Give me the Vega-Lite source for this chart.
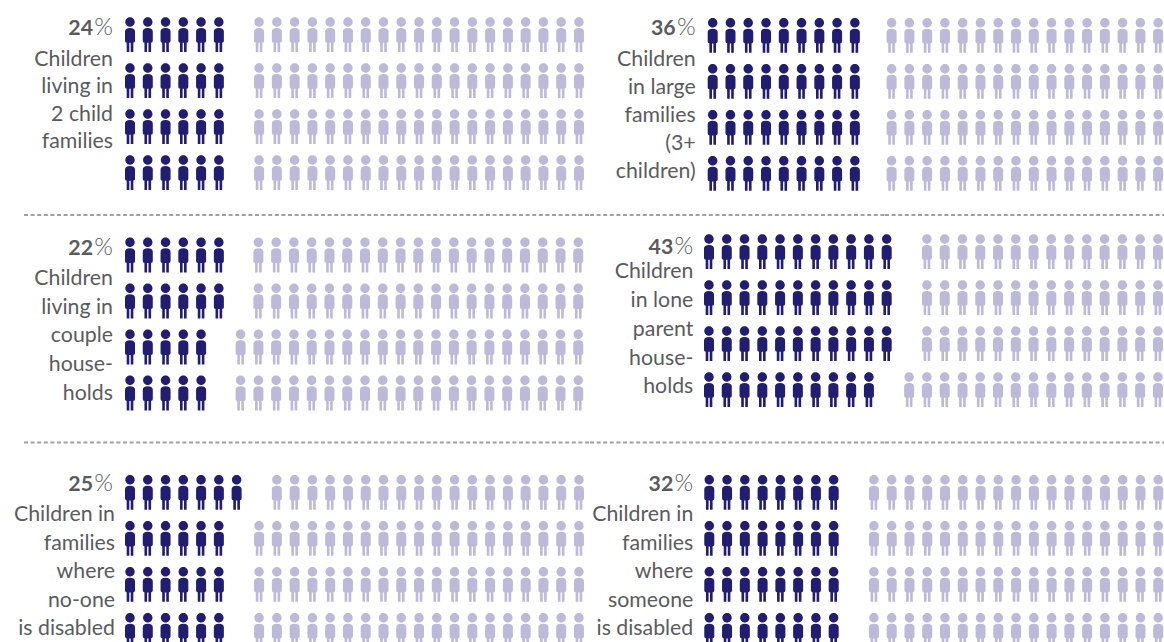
{"$schema":"https://vega.github.io/schema/vega-lite/v6.json","padding":0,"background":"white","spacing":0,"bounds":"flush","columns":2,"config":{"view":{"stroke":null},"rule":{"color":"#a0a0a0","strokeWidth":2.2,"strokeDash":[4,2.6]},"point":{"filled":true,"opacity":1,"size":1225,"strokeWidth":0,"shape":"M-0.27 -0.72C-0.27 -0.869 -0.149 -0.99 0 -0.99C0.149 -0.99 0.27 -0.869 0.27 -0.72C0.27 -0.571 0.149 -0.45 0 -0.45C-0.149 -0.45 -0.27 -0.571 -0.27 -0.72ZM-0.286 -0.17Q-0.286 -0.377 0 -0.377Q0.286 -0.377 0.286 -0.17L0.286 0.36Q0.286 0.463 0.18 0.463L-0.18 0.463Q-0.286 0.463 -0.286 0.36ZM-0.19 0.44L-0.04 0.44L-0.04 1L-0.19 1ZM0.04 0.44L0.19 0.44L0.19 1L0.04 1Z"},"text":{"font":"Lato","fontSize":21.3,"color":"#5a5b5d","align":"right","baseline":"alphabetic"}},
"datasets":{
"p1":[{"row":0,"col":0,"kind":"dark"},{"row":0,"col":1,"kind":"dark"},{"row":0,"col":2,"kind":"dark"},{"row":0,"col":3,"kind":"dark"},{"row":0,"col":4,"kind":"dark"},{"row":0,"col":5,"kind":"dark"},{"row":0,"col":7,"kind":"light"},{"row":0,"col":8,"kind":"light"},{"row":0,"col":9,"kind":"light"},{"row":0,"col":10,"kind":"light"},{"row":0,"col":11,"kind":"light"},{"row":0,"col":12,"kind":"light"},{"row":0,"col":13,"kind":"light"},{"row":0,"col":14,"kind":"light"},{"row":0,"col":15,"kind":"light"},{"row":0,"col":16,"kind":"light"},{"row":0,"col":17,"kind":"light"},{"row":0,"col":18,"kind":"light"},{"row":0,"col":19,"kind":"light"},{"row":0,"col":20,"kind":"light"},{"row":0,"col":21,"kind":"light"},{"row":0,"col":22,"kind":"light"},{"row":0,"col":23,"kind":"light"},{"row":0,"col":24,"kind":"light"},{"row":0,"col":25,"kind":"light"},
{"row":1,"col":0,"kind":"dark"},{"row":1,"col":1,"kind":"dark"},{"row":1,"col":2,"kind":"dark"},{"row":1,"col":3,"kind":"dark"},{"row":1,"col":4,"kind":"dark"},{"row":1,"col":5,"kind":"dark"},{"row":1,"col":7,"kind":"light"},{"row":1,"col":8,"kind":"light"},{"row":1,"col":9,"kind":"light"},{"row":1,"col":10,"kind":"light"},{"row":1,"col":11,"kind":"light"},{"row":1,"col":12,"kind":"light"},{"row":1,"col":13,"kind":"light"},{"row":1,"col":14,"kind":"light"},{"row":1,"col":15,"kind":"light"},{"row":1,"col":16,"kind":"light"},{"row":1,"col":17,"kind":"light"},{"row":1,"col":18,"kind":"light"},{"row":1,"col":19,"kind":"light"},{"row":1,"col":20,"kind":"light"},{"row":1,"col":21,"kind":"light"},{"row":1,"col":22,"kind":"light"},{"row":1,"col":23,"kind":"light"},{"row":1,"col":24,"kind":"light"},{"row":1,"col":25,"kind":"light"},
{"row":2,"col":0,"kind":"dark"},{"row":2,"col":1,"kind":"dark"},{"row":2,"col":2,"kind":"dark"},{"row":2,"col":3,"kind":"dark"},{"row":2,"col":4,"kind":"dark"},{"row":2,"col":5,"kind":"dark"},{"row":2,"col":7,"kind":"light"},{"row":2,"col":8,"kind":"light"},{"row":2,"col":9,"kind":"light"},{"row":2,"col":10,"kind":"light"},{"row":2,"col":11,"kind":"light"},{"row":2,"col":12,"kind":"light"},{"row":2,"col":13,"kind":"light"},{"row":2,"col":14,"kind":"light"},{"row":2,"col":15,"kind":"light"},{"row":2,"col":16,"kind":"light"},{"row":2,"col":17,"kind":"light"},{"row":2,"col":18,"kind":"light"},{"row":2,"col":19,"kind":"light"},{"row":2,"col":20,"kind":"light"},{"row":2,"col":21,"kind":"light"},{"row":2,"col":22,"kind":"light"},{"row":2,"col":23,"kind":"light"},{"row":2,"col":24,"kind":"light"},{"row":2,"col":25,"kind":"light"},
{"row":3,"col":0,"kind":"dark"},{"row":3,"col":1,"kind":"dark"},{"row":3,"col":2,"kind":"dark"},{"row":3,"col":3,"kind":"dark"},{"row":3,"col":4,"kind":"dark"},{"row":3,"col":5,"kind":"dark"},{"row":3,"col":7,"kind":"light"},{"row":3,"col":8,"kind":"light"},{"row":3,"col":9,"kind":"light"},{"row":3,"col":10,"kind":"light"},{"row":3,"col":11,"kind":"light"},{"row":3,"col":12,"kind":"light"},{"row":3,"col":13,"kind":"light"},{"row":3,"col":14,"kind":"light"},{"row":3,"col":15,"kind":"light"},{"row":3,"col":16,"kind":"light"},{"row":3,"col":17,"kind":"light"},{"row":3,"col":18,"kind":"light"},{"row":3,"col":19,"kind":"light"},{"row":3,"col":20,"kind":"light"},{"row":3,"col":21,"kind":"light"},{"row":3,"col":22,"kind":"light"},{"row":3,"col":23,"kind":"light"},{"row":3,"col":24,"kind":"light"},{"row":3,"col":25,"kind":"light"}],
"p2":[{"row":0,"col":0,"kind":"dark"},{"row":0,"col":1,"kind":"dark"},{"row":0,"col":2,"kind":"dark"},{"row":0,"col":3,"kind":"dark"},{"row":0,"col":4,"kind":"dark"},{"row":0,"col":5,"kind":"dark"},{"row":0,"col":6,"kind":"dark"},{"row":0,"col":7,"kind":"dark"},{"row":0,"col":8,"kind":"dark"},{"row":0,"col":10,"kind":"light"},{"row":0,"col":11,"kind":"light"},{"row":0,"col":12,"kind":"light"},{"row":0,"col":13,"kind":"light"},{"row":0,"col":14,"kind":"light"},{"row":0,"col":15,"kind":"light"},{"row":0,"col":16,"kind":"light"},{"row":0,"col":17,"kind":"light"},{"row":0,"col":18,"kind":"light"},{"row":0,"col":19,"kind":"light"},{"row":0,"col":20,"kind":"light"},{"row":0,"col":21,"kind":"light"},{"row":0,"col":22,"kind":"light"},{"row":0,"col":23,"kind":"light"},{"row":0,"col":24,"kind":"light"},{"row":0,"col":25,"kind":"light"},
{"row":1,"col":0,"kind":"dark"},{"row":1,"col":1,"kind":"dark"},{"row":1,"col":2,"kind":"dark"},{"row":1,"col":3,"kind":"dark"},{"row":1,"col":4,"kind":"dark"},{"row":1,"col":5,"kind":"dark"},{"row":1,"col":6,"kind":"dark"},{"row":1,"col":7,"kind":"dark"},{"row":1,"col":8,"kind":"dark"},{"row":1,"col":10,"kind":"light"},{"row":1,"col":11,"kind":"light"},{"row":1,"col":12,"kind":"light"},{"row":1,"col":13,"kind":"light"},{"row":1,"col":14,"kind":"light"},{"row":1,"col":15,"kind":"light"},{"row":1,"col":16,"kind":"light"},{"row":1,"col":17,"kind":"light"},{"row":1,"col":18,"kind":"light"},{"row":1,"col":19,"kind":"light"},{"row":1,"col":20,"kind":"light"},{"row":1,"col":21,"kind":"light"},{"row":1,"col":22,"kind":"light"},{"row":1,"col":23,"kind":"light"},{"row":1,"col":24,"kind":"light"},{"row":1,"col":25,"kind":"light"},
{"row":2,"col":0,"kind":"dark"},{"row":2,"col":1,"kind":"dark"},{"row":2,"col":2,"kind":"dark"},{"row":2,"col":3,"kind":"dark"},{"row":2,"col":4,"kind":"dark"},{"row":2,"col":5,"kind":"dark"},{"row":2,"col":6,"kind":"dark"},{"row":2,"col":7,"kind":"dark"},{"row":2,"col":8,"kind":"dark"},{"row":2,"col":10,"kind":"light"},{"row":2,"col":11,"kind":"light"},{"row":2,"col":12,"kind":"light"},{"row":2,"col":13,"kind":"light"},{"row":2,"col":14,"kind":"light"},{"row":2,"col":15,"kind":"light"},{"row":2,"col":16,"kind":"light"},{"row":2,"col":17,"kind":"light"},{"row":2,"col":18,"kind":"light"},{"row":2,"col":19,"kind":"light"},{"row":2,"col":20,"kind":"light"},{"row":2,"col":21,"kind":"light"},{"row":2,"col":22,"kind":"light"},{"row":2,"col":23,"kind":"light"},{"row":2,"col":24,"kind":"light"},{"row":2,"col":25,"kind":"light"},
{"row":3,"col":0,"kind":"dark"},{"row":3,"col":1,"kind":"dark"},{"row":3,"col":2,"kind":"dark"},{"row":3,"col":3,"kind":"dark"},{"row":3,"col":4,"kind":"dark"},{"row":3,"col":5,"kind":"dark"},{"row":3,"col":6,"kind":"dark"},{"row":3,"col":7,"kind":"dark"},{"row":3,"col":8,"kind":"dark"},{"row":3,"col":10,"kind":"light"},{"row":3,"col":11,"kind":"light"},{"row":3,"col":12,"kind":"light"},{"row":3,"col":13,"kind":"light"},{"row":3,"col":14,"kind":"light"},{"row":3,"col":15,"kind":"light"},{"row":3,"col":16,"kind":"light"},{"row":3,"col":17,"kind":"light"},{"row":3,"col":18,"kind":"light"},{"row":3,"col":19,"kind":"light"},{"row":3,"col":20,"kind":"light"},{"row":3,"col":21,"kind":"light"},{"row":3,"col":22,"kind":"light"},{"row":3,"col":23,"kind":"light"},{"row":3,"col":24,"kind":"light"},{"row":3,"col":25,"kind":"light"}],
"p3":[{"row":0,"col":0,"kind":"dark"},{"row":0,"col":1,"kind":"dark"},{"row":0,"col":2,"kind":"dark"},{"row":0,"col":3,"kind":"dark"},{"row":0,"col":4,"kind":"dark"},{"row":0,"col":5,"kind":"dark"},{"row":0,"col":7,"kind":"light"},{"row":0,"col":8,"kind":"light"},{"row":0,"col":9,"kind":"light"},{"row":0,"col":10,"kind":"light"},{"row":0,"col":11,"kind":"light"},{"row":0,"col":12,"kind":"light"},{"row":0,"col":13,"kind":"light"},{"row":0,"col":14,"kind":"light"},{"row":0,"col":15,"kind":"light"},{"row":0,"col":16,"kind":"light"},{"row":0,"col":17,"kind":"light"},{"row":0,"col":18,"kind":"light"},{"row":0,"col":19,"kind":"light"},{"row":0,"col":20,"kind":"light"},{"row":0,"col":21,"kind":"light"},{"row":0,"col":22,"kind":"light"},{"row":0,"col":23,"kind":"light"},{"row":0,"col":24,"kind":"light"},{"row":0,"col":25,"kind":"light"},
{"row":1,"col":0,"kind":"dark"},{"row":1,"col":1,"kind":"dark"},{"row":1,"col":2,"kind":"dark"},{"row":1,"col":3,"kind":"dark"},{"row":1,"col":4,"kind":"dark"},{"row":1,"col":5,"kind":"dark"},{"row":1,"col":7,"kind":"light"},{"row":1,"col":8,"kind":"light"},{"row":1,"col":9,"kind":"light"},{"row":1,"col":10,"kind":"light"},{"row":1,"col":11,"kind":"light"},{"row":1,"col":12,"kind":"light"},{"row":1,"col":13,"kind":"light"},{"row":1,"col":14,"kind":"light"},{"row":1,"col":15,"kind":"light"},{"row":1,"col":16,"kind":"light"},{"row":1,"col":17,"kind":"light"},{"row":1,"col":18,"kind":"light"},{"row":1,"col":19,"kind":"light"},{"row":1,"col":20,"kind":"light"},{"row":1,"col":21,"kind":"light"},{"row":1,"col":22,"kind":"light"},{"row":1,"col":23,"kind":"light"},{"row":1,"col":24,"kind":"light"},{"row":1,"col":25,"kind":"light"},
{"row":2,"col":0,"kind":"dark"},{"row":2,"col":1,"kind":"dark"},{"row":2,"col":2,"kind":"dark"},{"row":2,"col":3,"kind":"dark"},{"row":2,"col":4,"kind":"dark"},{"row":2,"col":6,"kind":"light"},{"row":2,"col":7,"kind":"light"},{"row":2,"col":8,"kind":"light"},{"row":2,"col":9,"kind":"light"},{"row":2,"col":10,"kind":"light"},{"row":2,"col":11,"kind":"light"},{"row":2,"col":12,"kind":"light"},{"row":2,"col":13,"kind":"light"},{"row":2,"col":14,"kind":"light"},{"row":2,"col":15,"kind":"light"},{"row":2,"col":16,"kind":"light"},{"row":2,"col":17,"kind":"light"},{"row":2,"col":18,"kind":"light"},{"row":2,"col":19,"kind":"light"},{"row":2,"col":20,"kind":"light"},{"row":2,"col":21,"kind":"light"},{"row":2,"col":22,"kind":"light"},{"row":2,"col":23,"kind":"light"},{"row":2,"col":24,"kind":"light"},{"row":2,"col":25,"kind":"light"},
{"row":3,"col":0,"kind":"dark"},{"row":3,"col":1,"kind":"dark"},{"row":3,"col":2,"kind":"dark"},{"row":3,"col":3,"kind":"dark"},{"row":3,"col":4,"kind":"dark"},{"row":3,"col":6,"kind":"light"},{"row":3,"col":7,"kind":"light"},{"row":3,"col":8,"kind":"light"},{"row":3,"col":9,"kind":"light"},{"row":3,"col":10,"kind":"light"},{"row":3,"col":11,"kind":"light"},{"row":3,"col":12,"kind":"light"},{"row":3,"col":13,"kind":"light"},{"row":3,"col":14,"kind":"light"},{"row":3,"col":15,"kind":"light"},{"row":3,"col":16,"kind":"light"},{"row":3,"col":17,"kind":"light"},{"row":3,"col":18,"kind":"light"},{"row":3,"col":19,"kind":"light"},{"row":3,"col":20,"kind":"light"},{"row":3,"col":21,"kind":"light"},{"row":3,"col":22,"kind":"light"},{"row":3,"col":23,"kind":"light"},{"row":3,"col":24,"kind":"light"},{"row":3,"col":25,"kind":"light"}],
"p4":[{"row":0,"col":0,"kind":"dark"},{"row":0,"col":1,"kind":"dark"},{"row":0,"col":2,"kind":"dark"},{"row":0,"col":3,"kind":"dark"},{"row":0,"col":4,"kind":"dark"},{"row":0,"col":5,"kind":"dark"},{"row":0,"col":6,"kind":"dark"},{"row":0,"col":7,"kind":"dark"},{"row":0,"col":8,"kind":"dark"},{"row":0,"col":9,"kind":"dark"},{"row":0,"col":10,"kind":"dark"},{"row":0,"col":12,"kind":"light"},{"row":0,"col":13,"kind":"light"},{"row":0,"col":14,"kind":"light"},{"row":0,"col":15,"kind":"light"},{"row":0,"col":16,"kind":"light"},{"row":0,"col":17,"kind":"light"},{"row":0,"col":18,"kind":"light"},{"row":0,"col":19,"kind":"light"},{"row":0,"col":20,"kind":"light"},{"row":0,"col":21,"kind":"light"},{"row":0,"col":22,"kind":"light"},{"row":0,"col":23,"kind":"light"},{"row":0,"col":24,"kind":"light"},{"row":0,"col":25,"kind":"light"},
{"row":1,"col":0,"kind":"dark"},{"row":1,"col":1,"kind":"dark"},{"row":1,"col":2,"kind":"dark"},{"row":1,"col":3,"kind":"dark"},{"row":1,"col":4,"kind":"dark"},{"row":1,"col":5,"kind":"dark"},{"row":1,"col":6,"kind":"dark"},{"row":1,"col":7,"kind":"dark"},{"row":1,"col":8,"kind":"dark"},{"row":1,"col":9,"kind":"dark"},{"row":1,"col":10,"kind":"dark"},{"row":1,"col":12,"kind":"light"},{"row":1,"col":13,"kind":"light"},{"row":1,"col":14,"kind":"light"},{"row":1,"col":15,"kind":"light"},{"row":1,"col":16,"kind":"light"},{"row":1,"col":17,"kind":"light"},{"row":1,"col":18,"kind":"light"},{"row":1,"col":19,"kind":"light"},{"row":1,"col":20,"kind":"light"},{"row":1,"col":21,"kind":"light"},{"row":1,"col":22,"kind":"light"},{"row":1,"col":23,"kind":"light"},{"row":1,"col":24,"kind":"light"},{"row":1,"col":25,"kind":"light"},
{"row":2,"col":0,"kind":"dark"},{"row":2,"col":1,"kind":"dark"},{"row":2,"col":2,"kind":"dark"},{"row":2,"col":3,"kind":"dark"},{"row":2,"col":4,"kind":"dark"},{"row":2,"col":5,"kind":"dark"},{"row":2,"col":6,"kind":"dark"},{"row":2,"col":7,"kind":"dark"},{"row":2,"col":8,"kind":"dark"},{"row":2,"col":9,"kind":"dark"},{"row":2,"col":10,"kind":"dark"},{"row":2,"col":12,"kind":"light"},{"row":2,"col":13,"kind":"light"},{"row":2,"col":14,"kind":"light"},{"row":2,"col":15,"kind":"light"},{"row":2,"col":16,"kind":"light"},{"row":2,"col":17,"kind":"light"},{"row":2,"col":18,"kind":"light"},{"row":2,"col":19,"kind":"light"},{"row":2,"col":20,"kind":"light"},{"row":2,"col":21,"kind":"light"},{"row":2,"col":22,"kind":"light"},{"row":2,"col":23,"kind":"light"},{"row":2,"col":24,"kind":"light"},{"row":2,"col":25,"kind":"light"},
{"row":3,"col":0,"kind":"dark"},{"row":3,"col":1,"kind":"dark"},{"row":3,"col":2,"kind":"dark"},{"row":3,"col":3,"kind":"dark"},{"row":3,"col":4,"kind":"dark"},{"row":3,"col":5,"kind":"dark"},{"row":3,"col":6,"kind":"dark"},{"row":3,"col":7,"kind":"dark"},{"row":3,"col":8,"kind":"dark"},{"row":3,"col":9,"kind":"dark"},{"row":3,"col":11,"kind":"light"},{"row":3,"col":12,"kind":"light"},{"row":3,"col":13,"kind":"light"},{"row":3,"col":14,"kind":"light"},{"row":3,"col":15,"kind":"light"},{"row":3,"col":16,"kind":"light"},{"row":3,"col":17,"kind":"light"},{"row":3,"col":18,"kind":"light"},{"row":3,"col":19,"kind":"light"},{"row":3,"col":20,"kind":"light"},{"row":3,"col":21,"kind":"light"},{"row":3,"col":22,"kind":"light"},{"row":3,"col":23,"kind":"light"},{"row":3,"col":24,"kind":"light"},{"row":3,"col":25,"kind":"light"}],
"p5":[{"row":0,"col":0,"kind":"dark"},{"row":0,"col":1,"kind":"dark"},{"row":0,"col":2,"kind":"dark"},{"row":0,"col":3,"kind":"dark"},{"row":0,"col":4,"kind":"dark"},{"row":0,"col":5,"kind":"dark"},{"row":0,"col":6,"kind":"dark"},{"row":0,"col":8,"kind":"light"},{"row":0,"col":9,"kind":"light"},{"row":0,"col":10,"kind":"light"},{"row":0,"col":11,"kind":"light"},{"row":0,"col":12,"kind":"light"},{"row":0,"col":13,"kind":"light"},{"row":0,"col":14,"kind":"light"},{"row":0,"col":15,"kind":"light"},{"row":0,"col":16,"kind":"light"},{"row":0,"col":17,"kind":"light"},{"row":0,"col":18,"kind":"light"},{"row":0,"col":19,"kind":"light"},{"row":0,"col":20,"kind":"light"},{"row":0,"col":21,"kind":"light"},{"row":0,"col":22,"kind":"light"},{"row":0,"col":23,"kind":"light"},{"row":0,"col":24,"kind":"light"},{"row":0,"col":25,"kind":"light"},
{"row":1,"col":0,"kind":"dark"},{"row":1,"col":1,"kind":"dark"},{"row":1,"col":2,"kind":"dark"},{"row":1,"col":3,"kind":"dark"},{"row":1,"col":4,"kind":"dark"},{"row":1,"col":5,"kind":"dark"},{"row":1,"col":7,"kind":"light"},{"row":1,"col":8,"kind":"light"},{"row":1,"col":9,"kind":"light"},{"row":1,"col":10,"kind":"light"},{"row":1,"col":11,"kind":"light"},{"row":1,"col":12,"kind":"light"},{"row":1,"col":13,"kind":"light"},{"row":1,"col":14,"kind":"light"},{"row":1,"col":15,"kind":"light"},{"row":1,"col":16,"kind":"light"},{"row":1,"col":17,"kind":"light"},{"row":1,"col":18,"kind":"light"},{"row":1,"col":19,"kind":"light"},{"row":1,"col":20,"kind":"light"},{"row":1,"col":21,"kind":"light"},{"row":1,"col":22,"kind":"light"},{"row":1,"col":23,"kind":"light"},{"row":1,"col":24,"kind":"light"},{"row":1,"col":25,"kind":"light"},
{"row":2,"col":0,"kind":"dark"},{"row":2,"col":1,"kind":"dark"},{"row":2,"col":2,"kind":"dark"},{"row":2,"col":3,"kind":"dark"},{"row":2,"col":4,"kind":"dark"},{"row":2,"col":5,"kind":"dark"},{"row":2,"col":7,"kind":"light"},{"row":2,"col":8,"kind":"light"},{"row":2,"col":9,"kind":"light"},{"row":2,"col":10,"kind":"light"},{"row":2,"col":11,"kind":"light"},{"row":2,"col":12,"kind":"light"},{"row":2,"col":13,"kind":"light"},{"row":2,"col":14,"kind":"light"},{"row":2,"col":15,"kind":"light"},{"row":2,"col":16,"kind":"light"},{"row":2,"col":17,"kind":"light"},{"row":2,"col":18,"kind":"light"},{"row":2,"col":19,"kind":"light"},{"row":2,"col":20,"kind":"light"},{"row":2,"col":21,"kind":"light"},{"row":2,"col":22,"kind":"light"},{"row":2,"col":23,"kind":"light"},{"row":2,"col":24,"kind":"light"},{"row":2,"col":25,"kind":"light"},
{"row":3,"col":0,"kind":"dark"},{"row":3,"col":1,"kind":"dark"},{"row":3,"col":2,"kind":"dark"},{"row":3,"col":3,"kind":"dark"},{"row":3,"col":4,"kind":"dark"},{"row":3,"col":5,"kind":"dark"},{"row":3,"col":7,"kind":"light"},{"row":3,"col":8,"kind":"light"},{"row":3,"col":9,"kind":"light"},{"row":3,"col":10,"kind":"light"},{"row":3,"col":11,"kind":"light"},{"row":3,"col":12,"kind":"light"},{"row":3,"col":13,"kind":"light"},{"row":3,"col":14,"kind":"light"},{"row":3,"col":15,"kind":"light"},{"row":3,"col":16,"kind":"light"},{"row":3,"col":17,"kind":"light"},{"row":3,"col":18,"kind":"light"},{"row":3,"col":19,"kind":"light"},{"row":3,"col":20,"kind":"light"},{"row":3,"col":21,"kind":"light"},{"row":3,"col":22,"kind":"light"},{"row":3,"col":23,"kind":"light"},{"row":3,"col":24,"kind":"light"},{"row":3,"col":25,"kind":"light"}],
"p6":[{"row":0,"col":0,"kind":"dark"},{"row":0,"col":1,"kind":"dark"},{"row":0,"col":2,"kind":"dark"},{"row":0,"col":3,"kind":"dark"},{"row":0,"col":4,"kind":"dark"},{"row":0,"col":5,"kind":"dark"},{"row":0,"col":6,"kind":"dark"},{"row":0,"col":7,"kind":"dark"},{"row":0,"col":9,"kind":"light"},{"row":0,"col":10,"kind":"light"},{"row":0,"col":11,"kind":"light"},{"row":0,"col":12,"kind":"light"},{"row":0,"col":13,"kind":"light"},{"row":0,"col":14,"kind":"light"},{"row":0,"col":15,"kind":"light"},{"row":0,"col":16,"kind":"light"},{"row":0,"col":17,"kind":"light"},{"row":0,"col":18,"kind":"light"},{"row":0,"col":19,"kind":"light"},{"row":0,"col":20,"kind":"light"},{"row":0,"col":21,"kind":"light"},{"row":0,"col":22,"kind":"light"},{"row":0,"col":23,"kind":"light"},{"row":0,"col":24,"kind":"light"},{"row":0,"col":25,"kind":"light"},
{"row":1,"col":0,"kind":"dark"},{"row":1,"col":1,"kind":"dark"},{"row":1,"col":2,"kind":"dark"},{"row":1,"col":3,"kind":"dark"},{"row":1,"col":4,"kind":"dark"},{"row":1,"col":5,"kind":"dark"},{"row":1,"col":6,"kind":"dark"},{"row":1,"col":7,"kind":"dark"},{"row":1,"col":9,"kind":"light"},{"row":1,"col":10,"kind":"light"},{"row":1,"col":11,"kind":"light"},{"row":1,"col":12,"kind":"light"},{"row":1,"col":13,"kind":"light"},{"row":1,"col":14,"kind":"light"},{"row":1,"col":15,"kind":"light"},{"row":1,"col":16,"kind":"light"},{"row":1,"col":17,"kind":"light"},{"row":1,"col":18,"kind":"light"},{"row":1,"col":19,"kind":"light"},{"row":1,"col":20,"kind":"light"},{"row":1,"col":21,"kind":"light"},{"row":1,"col":22,"kind":"light"},{"row":1,"col":23,"kind":"light"},{"row":1,"col":24,"kind":"light"},{"row":1,"col":25,"kind":"light"},
{"row":2,"col":0,"kind":"dark"},{"row":2,"col":1,"kind":"dark"},{"row":2,"col":2,"kind":"dark"},{"row":2,"col":3,"kind":"dark"},{"row":2,"col":4,"kind":"dark"},{"row":2,"col":5,"kind":"dark"},{"row":2,"col":6,"kind":"dark"},{"row":2,"col":7,"kind":"dark"},{"row":2,"col":9,"kind":"light"},{"row":2,"col":10,"kind":"light"},{"row":2,"col":11,"kind":"light"},{"row":2,"col":12,"kind":"light"},{"row":2,"col":13,"kind":"light"},{"row":2,"col":14,"kind":"light"},{"row":2,"col":15,"kind":"light"},{"row":2,"col":16,"kind":"light"},{"row":2,"col":17,"kind":"light"},{"row":2,"col":18,"kind":"light"},{"row":2,"col":19,"kind":"light"},{"row":2,"col":20,"kind":"light"},{"row":2,"col":21,"kind":"light"},{"row":2,"col":22,"kind":"light"},{"row":2,"col":23,"kind":"light"},{"row":2,"col":24,"kind":"light"},{"row":2,"col":25,"kind":"light"},
{"row":3,"col":0,"kind":"dark"},{"row":3,"col":1,"kind":"dark"},{"row":3,"col":2,"kind":"dark"},{"row":3,"col":3,"kind":"dark"},{"row":3,"col":4,"kind":"dark"},{"row":3,"col":5,"kind":"dark"},{"row":3,"col":6,"kind":"dark"},{"row":3,"col":7,"kind":"dark"},{"row":3,"col":9,"kind":"light"},{"row":3,"col":10,"kind":"light"},{"row":3,"col":11,"kind":"light"},{"row":3,"col":12,"kind":"light"},{"row":3,"col":13,"kind":"light"},{"row":3,"col":14,"kind":"light"},{"row":3,"col":15,"kind":"light"},{"row":3,"col":16,"kind":"light"},{"row":3,"col":17,"kind":"light"},{"row":3,"col":18,"kind":"light"},{"row":3,"col":19,"kind":"light"},{"row":3,"col":20,"kind":"light"},{"row":3,"col":21,"kind":"light"},{"row":3,"col":22,"kind":"light"},{"row":3,"col":23,"kind":"light"},{"row":3,"col":24,"kind":"light"},{"row":3,"col":25,"kind":"light"}]
},
"concat":[
{"width":590,"height":215,"resolve":{"scale":{"y":"independent"}},"layer":[
{"data":{"name":"p1"},"transform":[{"filter":{"field":"kind","equal":"dark"}}],"mark":{"type":"point","color":"#211d70"},"encoding":{"x":{"field":"col","type":"quantitative","axis":null,"scale":{"domain":[-7.316,25.886],"nice":false,"zero":false}},"y":{"field":"row","type":"quantitative","axis":null,"scale":{"domain":[-0.752,3.922],"reverse":true,"nice":false,"zero":false}}}},
{"data":{"name":"p1"},"transform":[{"filter":{"field":"kind","equal":"light"}}],"mark":{"type":"point","color":"#bdb9d8","xOffset":4.7},"encoding":{"x":{"field":"col","type":"quantitative","axis":null,"scale":{"domain":[-7.316,25.886],"nice":false,"zero":false}},"y":{"field":"row","type":"quantitative","axis":null,"scale":{"domain":[-0.752,3.922],"reverse":true,"nice":false,"zero":false}}}},
{"data":{"values":[{"line":1,"text":"Children","edge":-0.957},{"line":2,"text":"living in","edge":-0.957},{"line":3,"text":"2 child","edge":-0.957},{"line":4,"text":"families","edge":-0.957}]},"mark":{"type":"text"},"encoding":{"text":{"field":"text"},"x":{"field":"edge","type":"quantitative","axis":null,"scale":{"domain":[-7.316,25.886],"nice":false,"zero":false}},"y":{"field":"line","type":"quantitative","axis":null,"scale":{"domain":[-1.389,6.429],"reverse":true,"nice":false,"zero":false}}}},
{"data":{"values":[{"row":0,"share":24,"edge":-0.957}]},"mark":{"type":"text","fontWeight":700,"dx":-20},"encoding":{"text":{"field":"share"},"x":{"field":"edge","type":"quantitative","axis":null,"scale":{"domain":[-7.316,25.886],"nice":false,"zero":false}},"y":{"field":"row","type":"quantitative","axis":null,"scale":{"domain":[-0.752,3.922],"reverse":true,"nice":false,"zero":false}}}},
{"data":{"values":[{"row":0,"sign":"%","edge":-0.957}]},"mark":{"type":"text","fontSize":24,"fontWeight":300},"encoding":{"text":{"field":"sign"},"x":{"field":"edge","type":"quantitative","axis":null,"scale":{"domain":[-7.316,25.886],"nice":false,"zero":false}},"y":{"field":"row","type":"quantitative","axis":null,"scale":{"domain":[-0.752,3.922],"reverse":true,"nice":false,"zero":false}}}}
]},
{"width":574,"height":215,"resolve":{"scale":{"y":"independent"}},"layer":[
{"data":{"name":"p2"},"transform":[{"filter":{"field":"kind","equal":"dark"}}],"mark":{"type":"point","color":"#211d70"},"encoding":{"x":{"field":"col","type":"quantitative","axis":null,"scale":{"domain":[-6.905,25.397],"nice":false,"zero":false}},"y":{"field":"row","type":"quantitative","axis":null,"scale":{"domain":[-0.767,3.907],"reverse":true,"nice":false,"zero":false}}}},
{"data":{"name":"p2"},"transform":[{"filter":{"field":"kind","equal":"light"}}],"mark":{"type":"point","color":"#bdb9d8","xOffset":1.2},"encoding":{"x":{"field":"col","type":"quantitative","axis":null,"scale":{"domain":[-6.905,25.397],"nice":false,"zero":false}},"y":{"field":"row","type":"quantitative","axis":null,"scale":{"domain":[-0.767,3.907],"reverse":true,"nice":false,"zero":false}}}},
{"data":{"values":[{"line":1,"text":"Children","edge":-0.957},{"line":2,"text":"in large","edge":-0.957},{"line":3,"text":"families","edge":-0.957},{"line":4,"text":"(3+","edge":-0.957},{"line":5,"text":"children)","edge":-0.957}]},"mark":{"type":"text"},"encoding":{"text":{"field":"text"},"x":{"field":"edge","type":"quantitative","axis":null,"scale":{"domain":[-6.905,25.397],"nice":false,"zero":false}},"y":{"field":"line","type":"quantitative","axis":null,"scale":{"domain":[-1.346,6.332],"reverse":true,"nice":false,"zero":false}}}},
{"data":{"values":[{"row":0,"share":36,"edge":-0.957}]},"mark":{"type":"text","fontWeight":700,"dx":-20},"encoding":{"text":{"field":"share"},"x":{"field":"edge","type":"quantitative","axis":null,"scale":{"domain":[-6.905,25.397],"nice":false,"zero":false}},"y":{"field":"row","type":"quantitative","axis":null,"scale":{"domain":[-0.767,3.907],"reverse":true,"nice":false,"zero":false}}}},
{"data":{"values":[{"row":0,"sign":"%","edge":-0.957}]},"mark":{"type":"text","fontSize":24,"fontWeight":300},"encoding":{"text":{"field":"sign"},"x":{"field":"edge","type":"quantitative","axis":null,"scale":{"domain":[-6.905,25.397],"nice":false,"zero":false}},"y":{"field":"row","type":"quantitative","axis":null,"scale":{"domain":[-0.767,3.907],"reverse":true,"nice":false,"zero":false}}}}
]},
{"width":590,"height":228,"resolve":{"scale":{"y":"independent"}},"layer":[
{"data":{"values":[{"level":-0.867,"from":-5.965,"to":25.886}]},"mark":{"type":"rule"},"encoding":{"x":{"field":"from","type":"quantitative","axis":null,"scale":{"domain":[-7.316,25.886],"nice":false,"zero":false}},"x2":{"field":"to"},"y":{"field":"level","type":"quantitative","axis":null,"scale":{"domain":[-0.867,4.089],"reverse":true,"nice":false,"zero":false}}}},
{"data":{"name":"p3"},"transform":[{"filter":{"field":"kind","equal":"dark"}}],"mark":{"type":"point","color":"#211d70"},"encoding":{"x":{"field":"col","type":"quantitative","axis":null,"scale":{"domain":[-7.316,25.886],"nice":false,"zero":false}},"y":{"field":"row","type":"quantitative","axis":null,"scale":{"domain":[-0.867,4.089],"reverse":true,"nice":false,"zero":false}}}},
{"data":{"name":"p3"},"transform":[{"filter":{"field":"kind","equal":"light"}}],"mark":{"type":"point","color":"#bdb9d8","xOffset":4},"encoding":{"x":{"field":"col","type":"quantitative","axis":null,"scale":{"domain":[-7.316,25.886],"nice":false,"zero":false}},"y":{"field":"row","type":"quantitative","axis":null,"scale":{"domain":[-0.867,4.089],"reverse":true,"nice":false,"zero":false}}}},
{"data":{"values":[{"line":1,"text":"Children","edge":-0.957},{"line":2,"text":"living in","edge":-0.957},{"line":3,"text":"couple","edge":-0.957},{"line":4,"text":"house-","edge":-0.957},{"line":5,"text":"holds","edge":-0.957}]},"mark":{"type":"text"},"encoding":{"text":{"field":"text"},"x":{"field":"edge","type":"quantitative","axis":null,"scale":{"domain":[-7.316,25.886],"nice":false,"zero":false}},"y":{"field":"line","type":"quantitative","axis":null,"scale":{"domain":[-1.439,6.505],"reverse":true,"nice":false,"zero":false}}}},
{"data":{"values":[{"row":0,"share":22,"edge":-0.957}]},"mark":{"type":"text","fontWeight":700,"dx":-20},"encoding":{"text":{"field":"share"},"x":{"field":"edge","type":"quantitative","axis":null,"scale":{"domain":[-7.316,25.886],"nice":false,"zero":false}},"y":{"field":"row","type":"quantitative","axis":null,"scale":{"domain":[-0.867,4.089],"reverse":true,"nice":false,"zero":false}}}},
{"data":{"values":[{"row":0,"sign":"%","edge":-0.957}]},"mark":{"type":"text","fontSize":24,"fontWeight":300},"encoding":{"text":{"field":"sign"},"x":{"field":"edge","type":"quantitative","axis":null,"scale":{"domain":[-7.316,25.886],"nice":false,"zero":false}},"y":{"field":"row","type":"quantitative","axis":null,"scale":{"domain":[-0.867,4.089],"reverse":true,"nice":false,"zero":false}}}}
]},
{"width":574,"height":228,"resolve":{"scale":{"y":"independent"}},"layer":[
{"data":{"values":[{"level":-0.796,"from":-6.697,"to":10.017},{"level":-0.796,"from":9.904,"to":25.606}]},"mark":{"type":"rule"},"encoding":{"x":{"field":"from","type":"quantitative","axis":null,"scale":{"domain":[-6.697,25.606],"nice":false,"zero":false}},"x2":{"field":"to"},"y":{"field":"level","type":"quantitative","axis":null,"scale":{"domain":[-0.796,4.161],"reverse":true,"nice":false,"zero":false}}}},
{"data":{"name":"p4"},"transform":[{"filter":{"field":"kind","equal":"dark"}}],"mark":{"type":"point","color":"#211d70"},"encoding":{"x":{"field":"col","type":"quantitative","axis":null,"scale":{"domain":[-6.697,25.606],"nice":false,"zero":false}},"y":{"field":"row","type":"quantitative","axis":null,"scale":{"domain":[-0.796,4.161],"reverse":true,"nice":false,"zero":false}}}},
{"data":{"name":"p4"},"transform":[{"filter":{"field":"kind","equal":"light"}}],"mark":{"type":"point","color":"#bdb9d8","xOffset":4.7},"encoding":{"x":{"field":"col","type":"quantitative","axis":null,"scale":{"domain":[-6.697,25.606],"nice":false,"zero":false}},"y":{"field":"row","type":"quantitative","axis":null,"scale":{"domain":[-0.796,4.161],"reverse":true,"nice":false,"zero":false}}}},
{"data":{"values":[{"line":1,"text":"Children","edge":-0.883},{"line":2,"text":"in lone","edge":-0.883},{"line":3,"text":"parent","edge":-0.883},{"line":4,"text":"house-","edge":-0.883},{"line":5,"text":"holds","edge":-0.883}]},"mark":{"type":"text"},"encoding":{"text":{"field":"text"},"x":{"field":"edge","type":"quantitative","axis":null,"scale":{"domain":[-6.697,25.606],"nice":false,"zero":false}},"y":{"field":"line","type":"quantitative","axis":null,"scale":{"domain":[-1.198,6.719],"reverse":true,"nice":false,"zero":false}}}},
{"data":{"values":[{"row":0,"share":43,"edge":-0.883}]},"mark":{"type":"text","fontWeight":700,"dx":-20,"dy":2},"encoding":{"text":{"field":"share"},"x":{"field":"edge","type":"quantitative","axis":null,"scale":{"domain":[-6.697,25.606],"nice":false,"zero":false}},"y":{"field":"row","type":"quantitative","axis":null,"scale":{"domain":[-0.796,4.161],"reverse":true,"nice":false,"zero":false}}}},
{"data":{"values":[{"row":0,"sign":"%","edge":-0.883}]},"mark":{"type":"text","fontSize":24,"fontWeight":300,"dy":2},"encoding":{"text":{"field":"sign"},"x":{"field":"edge","type":"quantitative","axis":null,"scale":{"domain":[-6.697,25.606],"nice":false,"zero":false}},"y":{"field":"row","type":"quantitative","axis":null,"scale":{"domain":[-0.796,4.161],"reverse":true,"nice":false,"zero":false}}}}
]},
{"width":590,"height":199,"resolve":{"scale":{"y":"independent"}},"layer":[
{"data":{"values":[{"level":-1.083,"from":-5.965,"to":25.886}]},"mark":{"type":"rule"},"encoding":{"x":{"field":"from","type":"quantitative","axis":null,"scale":{"domain":[-7.316,25.886],"nice":false,"zero":false}},"x2":{"field":"to"},"y":{"field":"level","type":"quantitative","axis":null,"scale":{"domain":[-1.072,3.254],"reverse":true,"nice":false,"zero":false}}}},
{"data":{"name":"p5"},"transform":[{"filter":{"field":"kind","equal":"dark"}}],"mark":{"type":"point","clip":true,"color":"#211d70"},"encoding":{"x":{"field":"col","type":"quantitative","axis":null,"scale":{"domain":[-7.316,25.886],"nice":false,"zero":false}},"y":{"field":"row","type":"quantitative","axis":null,"scale":{"domain":[-1.072,3.254],"reverse":true,"nice":false,"zero":false}}}},
{"data":{"name":"p5"},"transform":[{"filter":{"field":"kind","equal":"light"}}],"mark":{"type":"point","clip":true,"color":"#bdb9d8","xOffset":4.7},"encoding":{"x":{"field":"col","type":"quantitative","axis":null,"scale":{"domain":[-7.316,25.886],"nice":false,"zero":false}},"y":{"field":"row","type":"quantitative","axis":null,"scale":{"domain":[-1.072,3.254],"reverse":true,"nice":false,"zero":false}}}},
{"data":{"values":[{"line":1,"text":"Children in","edge":-0.844},{"line":2,"text":"families","edge":-0.844},{"line":3,"text":"where","edge":-0.844},{"line":4,"text":"no-one","edge":-0.844},{"line":5,"text":"is disabled","edge":-0.844}]},"mark":{"type":"text"},"encoding":{"text":{"field":"text"},"x":{"field":"edge","type":"quantitative","axis":null,"scale":{"domain":[-7.316,25.886],"nice":false,"zero":false}},"y":{"field":"line","type":"quantitative","axis":null,"scale":{"domain":[-1.727,5.231],"reverse":true,"nice":false,"zero":false}}}},
{"data":{"values":[{"row":0,"share":25,"edge":-0.957}]},"mark":{"type":"text","fontWeight":700,"dx":-20,"dy":-1},"encoding":{"text":{"field":"share"},"x":{"field":"edge","type":"quantitative","axis":null,"scale":{"domain":[-7.316,25.886],"nice":false,"zero":false}},"y":{"field":"row","type":"quantitative","axis":null,"scale":{"domain":[-1.072,3.254],"reverse":true,"nice":false,"zero":false}}}},
{"data":{"values":[{"row":0,"sign":"%","edge":-0.957}]},"mark":{"type":"text","fontSize":24,"fontWeight":300,"dy":-1},"encoding":{"text":{"field":"sign"},"x":{"field":"edge","type":"quantitative","axis":null,"scale":{"domain":[-7.316,25.886],"nice":false,"zero":false}},"y":{"field":"row","type":"quantitative","axis":null,"scale":{"domain":[-1.072,3.254],"reverse":true,"nice":false,"zero":false}}}}
]},
{"width":574,"height":199,"resolve":{"scale":{"y":"independent"}},"layer":[
{"data":{"values":[{"level":-1.083,"from":-6.713,"to":10.0},{"level":-1.083,"from":9.887,"to":25.589}]},"mark":{"type":"rule"},"encoding":{"x":{"field":"from","type":"quantitative","axis":null,"scale":{"domain":[-6.713,25.589],"nice":false,"zero":false}},"x2":{"field":"to"},"y":{"field":"level","type":"quantitative","axis":null,"scale":{"domain":[-1.072,3.254],"reverse":true,"nice":false,"zero":false}}}},
{"data":{"name":"p6"},"transform":[{"filter":{"field":"kind","equal":"dark"}}],"mark":{"type":"point","clip":true,"color":"#211d70"},"encoding":{"x":{"field":"col","type":"quantitative","axis":null,"scale":{"domain":[-6.713,25.589],"nice":false,"zero":false}},"y":{"field":"row","type":"quantitative","axis":null,"scale":{"domain":[-1.072,3.254],"reverse":true,"nice":false,"zero":false}}}},
{"data":{"name":"p6"},"transform":[{"filter":{"field":"kind","equal":"light"}}],"mark":{"type":"point","clip":true,"color":"#bdb9d8","xOffset":4.7},"encoding":{"x":{"field":"col","type":"quantitative","axis":null,"scale":{"domain":[-6.713,25.589],"nice":false,"zero":false}},"y":{"field":"row","type":"quantitative","axis":null,"scale":{"domain":[-1.072,3.254],"reverse":true,"nice":false,"zero":false}}}},
{"data":{"values":[{"line":1,"text":"Children in","edge":-0.9},{"line":2,"text":"families","edge":-0.9},{"line":3,"text":"where","edge":-0.9},{"line":4,"text":"someone","edge":-0.9},{"line":5,"text":"is disabled","edge":-0.9}]},"mark":{"type":"text"},"encoding":{"text":{"field":"text"},"x":{"field":"edge","type":"quantitative","axis":null,"scale":{"domain":[-6.713,25.589],"nice":false,"zero":false}},"y":{"field":"line","type":"quantitative","axis":null,"scale":{"domain":[-1.727,5.231],"reverse":true,"nice":false,"zero":false}}}},
{"data":{"values":[{"row":0,"share":32,"edge":-0.9}]},"mark":{"type":"text","fontWeight":700,"dx":-20,"dy":-1},"encoding":{"text":{"field":"share"},"x":{"field":"edge","type":"quantitative","axis":null,"scale":{"domain":[-6.713,25.589],"nice":false,"zero":false}},"y":{"field":"row","type":"quantitative","axis":null,"scale":{"domain":[-1.072,3.254],"reverse":true,"nice":false,"zero":false}}}},
{"data":{"values":[{"row":0,"sign":"%","edge":-0.9}]},"mark":{"type":"text","fontSize":24,"fontWeight":300,"dy":-1},"encoding":{"text":{"field":"sign"},"x":{"field":"edge","type":"quantitative","axis":null,"scale":{"domain":[-6.713,25.589],"nice":false,"zero":false}},"y":{"field":"row","type":"quantitative","axis":null,"scale":{"domain":[-1.072,3.254],"reverse":true,"nice":false,"zero":false}}}}
]}
]}
